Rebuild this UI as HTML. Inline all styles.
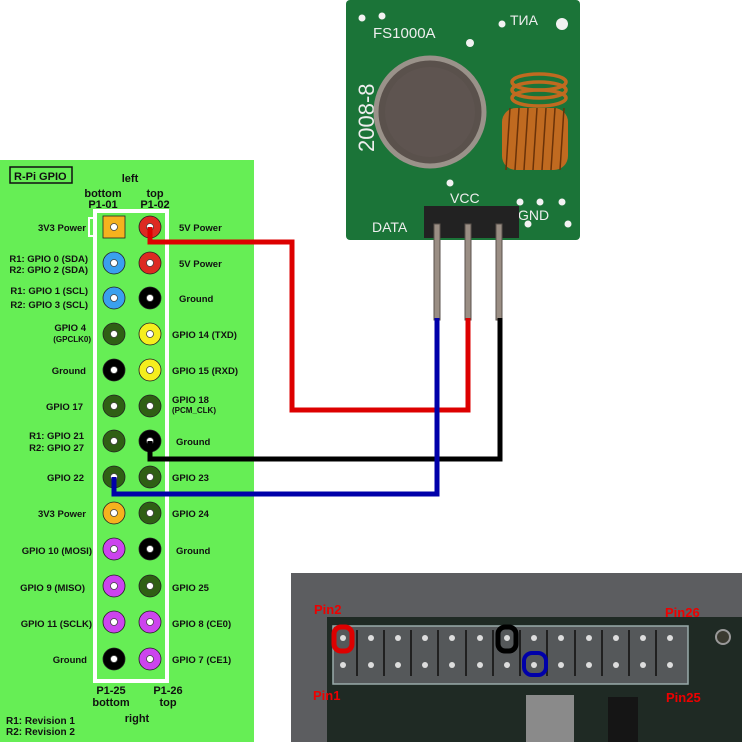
<!DOCTYPE html>
<html><head><meta charset="utf-8"><style>
html,body{margin:0;padding:0;background:#fff;}
svg{display:block;}
text{font-family:"Liberation Sans",sans-serif;font-weight:bold;fill:#111;}
</style></head><body>
<svg width="742" height="742" viewBox="0 0 742 742" xmlns="http://www.w3.org/2000/svg">
<rect x="0" y="160" width="254" height="582" fill="#66ee55"/>
<rect x="10" y="167" width="62" height="16" fill="none" stroke="#111" stroke-width="1.5"/>
<text x="14" y="180" font-size="11">R-Pi GPIO</text>
<text x="130" y="182" font-size="11" text-anchor="middle">left</text>
<text x="103" y="197" font-size="11" text-anchor="middle">bottom</text>
<text x="103" y="208" font-size="11" text-anchor="middle">P1-01</text>
<text x="155" y="197" font-size="11" text-anchor="middle">top</text>
<text x="155" y="208" font-size="11" text-anchor="middle">P1-02</text>
<rect x="95" y="211" width="72" height="470" fill="none" stroke="#fff" stroke-width="4"/>
<rect x="89" y="218" width="6" height="18" fill="none" stroke="#fff" stroke-width="2"/>
<g font-size="9.5">
<g text-anchor="end">
<text x="86" y="231">3V3 Power</text>
<text x="88" y="262">R1: GPIO 0 (SDA)</text><text x="88" y="273">R2: GPIO 2 (SDA)</text>
<text x="88" y="294">R1: GPIO 1 (SCL)</text><text x="88" y="308">R2: GPIO 3 (SCL)</text>
<text x="86" y="331">GPIO 4</text><text x="91" y="342" font-size="8">(GPCLK0)</text>
<text x="86" y="374">Ground</text>
<text x="83" y="410">GPIO 17</text>
<text x="84" y="439">R1: GPIO 21</text><text x="84" y="451">R2: GPIO 27</text>
<text x="84" y="481">GPIO 22</text>
<text x="86" y="517">3V3 Power</text>
<text x="92" y="554">GPIO 10 (MOSI)</text>
<text x="85" y="591">GPIO 9 (MISO)</text>
<text x="92" y="627">GPIO 11 (SCLK)</text>
<text x="87" y="663">Ground</text>
</g>
<text x="179" y="231">5V Power</text>
<text x="179" y="267">5V Power</text>
<text x="179" y="302">Ground</text>
<text x="172" y="338">GPIO 14 (TXD)</text>
<text x="172" y="374">GPIO 15 (RXD)</text>
<text x="172" y="403">GPIO 18</text><text x="172" y="413" font-size="8">(PCM_CLK)</text>
<text x="176" y="445">Ground</text>
<text x="172" y="481">GPIO 23</text>
<text x="172" y="517">GPIO 24</text>
<text x="176" y="554">Ground</text>
<text x="172" y="591">GPIO 25</text>
<text x="172" y="627">GPIO 8 (CE0)</text>
<text x="172" y="663">GPIO 7 (CE1)</text>
</g>
<text x="111" y="694" font-size="11" text-anchor="middle">P1-25</text>
<text x="111" y="706" font-size="11" text-anchor="middle">bottom</text>
<text x="168" y="694" font-size="11" text-anchor="middle">P1-26</text>
<text x="168" y="706" font-size="11" text-anchor="middle">top</text>
<text x="137" y="722" font-size="11" text-anchor="middle">right</text>
<text x="6" y="724" font-size="10">R1: Revision 1</text>
<text x="6" y="735" font-size="10">R2: Revision 2</text>
<g stroke="#222" stroke-width="0.8">
<rect x="103" y="216" width="22" height="22" fill="#f5b21e"/>
<circle cx="150" cy="227" r="11" fill="#dd2a22"/>
<circle cx="114" cy="263" r="11" fill="#3aa0ee"/><circle cx="150" cy="263" r="11" fill="#dd2a22"/>
<circle cx="114" cy="298" r="11" fill="#3aa0ee"/><circle cx="150" cy="298" r="11" fill="#000"/>
<circle cx="114" cy="334" r="11" fill="#2f5f14"/><circle cx="150" cy="334" r="11" fill="#f5ee1e"/>
<circle cx="114" cy="370" r="11" fill="#000"/><circle cx="150" cy="370" r="11" fill="#f5ee1e"/>
<circle cx="114" cy="406" r="11" fill="#2f5f14"/><circle cx="150" cy="406" r="11" fill="#2f5f14"/>
<circle cx="114" cy="441" r="11" fill="#2f5f14"/><circle cx="150" cy="441" r="11" fill="#000"/>
<circle cx="114" cy="477" r="11" fill="#2f5f14"/><circle cx="150" cy="477" r="11" fill="#2f5f14"/>
<circle cx="114" cy="513" r="11" fill="#f5b21e"/><circle cx="150" cy="513" r="11" fill="#2f5f14"/>
<circle cx="114" cy="549" r="11" fill="#cc44ee"/><circle cx="150" cy="549" r="11" fill="#000"/>
<circle cx="114" cy="586" r="11" fill="#cc44ee"/><circle cx="150" cy="586" r="11" fill="#2f5f14"/>
<circle cx="114" cy="622" r="11" fill="#cc44ee"/><circle cx="150" cy="622" r="11" fill="#cc44ee"/>
<circle cx="114" cy="659" r="11" fill="#000"/><circle cx="150" cy="659" r="11" fill="#cc44ee"/>
</g>
<g fill="#fff" stroke="#444" stroke-width="0.8">
<circle cx="114" cy="227" r="3.5"/><circle cx="150" cy="227" r="3.5"/>
<circle cx="114" cy="263" r="3.5"/><circle cx="150" cy="263" r="3.5"/>
<circle cx="114" cy="298" r="3.5"/><circle cx="150" cy="298" r="3.5"/>
<circle cx="114" cy="334" r="3.5"/><circle cx="150" cy="334" r="3.5"/>
<circle cx="114" cy="370" r="3.5"/><circle cx="150" cy="370" r="3.5"/>
<circle cx="114" cy="406" r="3.5"/><circle cx="150" cy="406" r="3.5"/>
<circle cx="114" cy="441" r="3.5"/><circle cx="150" cy="441" r="3.5"/>
<circle cx="114" cy="477" r="3.5"/><circle cx="150" cy="477" r="3.5"/>
<circle cx="114" cy="513" r="3.5"/><circle cx="150" cy="513" r="3.5"/>
<circle cx="114" cy="549" r="3.5"/><circle cx="150" cy="549" r="3.5"/>
<circle cx="114" cy="586" r="3.5"/><circle cx="150" cy="586" r="3.5"/>
<circle cx="114" cy="622" r="3.5"/><circle cx="150" cy="622" r="3.5"/>
<circle cx="114" cy="659" r="3.5"/><circle cx="150" cy="659" r="3.5"/>
</g>

<!-- transmitter module -->
<rect x="346" y="0" width="234" height="240" rx="4" fill="#1b7438"/>
<g fill="#f2f2f2"><circle cx="362" cy="18" r="3.5"/><circle cx="382" cy="16" r="3.5"/><circle cx="502" cy="24" r="3.5"/><circle cx="562" cy="24" r="6"/><circle cx="470" cy="43" r="4"/><circle cx="450" cy="183" r="3.5"/><circle cx="520" cy="202" r="3.5"/><circle cx="540" cy="202" r="3.5"/><circle cx="562" cy="202" r="3.5"/><circle cx="528" cy="224" r="3.5"/><circle cx="568" cy="224" r="3.5"/></g>
<text x="373" y="38" font-size="15" style="fill:#eee;font-weight:normal">FS1000A</text>
<text x="510" y="25" font-size="14" style="fill:#eee;font-weight:normal">TИA</text>
<text x="374" y="152" font-size="22" style="fill:#eee;font-weight:normal" transform="rotate(-90 374 152)">2008-8</text>
<text x="450" y="203" font-size="14" style="fill:#eee;font-weight:normal">VCC</text>
<text x="372" y="232" font-size="14" style="fill:#eee;font-weight:normal">DATA</text>
<text x="518" y="220" font-size="14" style="fill:#eee;font-weight:normal">GND</text>
<circle cx="430" cy="112" r="54" fill="#5a514c" stroke="#9a928a" stroke-width="5"/>
<circle cx="430" cy="112" r="45" fill="#5e5450"/>
<g fill="none" stroke="#c06a20" stroke-width="3.5">
<ellipse cx="539" cy="82" rx="27" ry="8"/><ellipse cx="539" cy="90" rx="27" ry="8"/><ellipse cx="539" cy="98" rx="27" ry="8"/>
</g>
<g fill="#c06a20">
<rect x="502" y="108" width="66" height="62" rx="14"/>
</g>
<g stroke="#6a3208" stroke-width="1.5">
<line x1="510" y1="108" x2="506" y2="170"/><line x1="519" y1="108" x2="515" y2="170"/><line x1="528" y1="108" x2="524" y2="170"/><line x1="537" y1="108" x2="533" y2="170"/><line x1="546" y1="108" x2="542" y2="170"/><line x1="555" y1="108" x2="551" y2="170"/><line x1="564" y1="108" x2="560" y2="170"/>
</g>
<rect x="424" y="206" width="95" height="32" fill="#222"/>
<g fill="#9a8e84" stroke="#5a524c" stroke-width="1">
<rect x="434" y="224" width="6" height="96"/><rect x="465" y="224" width="6" height="96"/><rect x="496" y="224" width="6" height="96"/>
</g>

<g fill="none" stroke-width="5">
<path d="M150 227 V242 H292 V410 H468 V318" stroke="#dd0000"/>
<path d="M150 441 V459 H500 V318" stroke="#000"/>
<path d="M114 477 V494 H437 V318" stroke="#0000aa"/>
</g>

<!-- bottom photo -->
<rect x="291" y="573" width="451" height="169" fill="#5c5d60"/>
<rect x="327" y="617" width="415" height="125" fill="#1f2a24"/>
<rect x="333" y="626" width="355" height="58" fill="#55585a" stroke="#9aa" stroke-width="1.5"/>
<g stroke="#202020" stroke-width="2">
<line x1="357" y1="630" x2="357" y2="676"/><line x1="384" y1="630" x2="384" y2="676"/><line x1="411" y1="630" x2="411" y2="676"/><line x1="438" y1="630" x2="438" y2="676"/><line x1="466" y1="630" x2="466" y2="676"/><line x1="493" y1="630" x2="493" y2="676"/><line x1="520" y1="630" x2="520" y2="676"/><line x1="547" y1="630" x2="547" y2="676"/><line x1="575" y1="630" x2="575" y2="676"/><line x1="602" y1="630" x2="602" y2="676"/><line x1="629" y1="630" x2="629" y2="676"/><line x1="656" y1="630" x2="656" y2="676"/>
</g>
<g fill="#ddd">
<circle cx="343" cy="638" r="3"/><circle cx="371" cy="638" r="3"/><circle cx="398" cy="638" r="3"/><circle cx="425" cy="638" r="3"/><circle cx="452" cy="638" r="3"/><circle cx="480" cy="638" r="3"/><circle cx="507" cy="638" r="3"/><circle cx="534" cy="638" r="3"/><circle cx="561" cy="638" r="3"/><circle cx="589" cy="638" r="3"/><circle cx="616" cy="638" r="3"/><circle cx="643" cy="638" r="3"/><circle cx="670" cy="638" r="3"/>
<circle cx="343" cy="665" r="3"/><circle cx="371" cy="665" r="3"/><circle cx="398" cy="665" r="3"/><circle cx="425" cy="665" r="3"/><circle cx="452" cy="665" r="3"/><circle cx="480" cy="665" r="3"/><circle cx="507" cy="665" r="3"/><circle cx="534" cy="665" r="3"/><circle cx="561" cy="665" r="3"/><circle cx="589" cy="665" r="3"/><circle cx="616" cy="665" r="3"/><circle cx="643" cy="665" r="3"/><circle cx="670" cy="665" r="3"/>
</g>
<rect x="334" y="627" width="18" height="24" rx="7" fill="none" stroke="#dd0000" stroke-width="5"/>
<rect x="498" y="627" width="18" height="24" rx="7" fill="none" stroke="#000" stroke-width="5"/>
<rect x="524" y="653" width="22" height="22" rx="8" fill="none" stroke="#0000aa" stroke-width="4"/>
<rect x="526" y="695" width="48" height="47" fill="#8a8a8a"/>
<rect x="608" y="697" width="30" height="45" fill="#151515"/>
<circle cx="723" cy="637" r="7" fill="#3a3a30" stroke="#999" stroke-width="2"/>
<g font-size="13">
<text x="314" y="614" style="fill:#ee0000">Pin2</text>
<text x="665" y="617" style="fill:#ee0000">Pin26</text>
<text x="313" y="700" style="fill:#ee0000">Pin1</text>
<text x="666" y="702" style="fill:#ee0000">Pin25</text>
</g>
</svg>
</body></html>
